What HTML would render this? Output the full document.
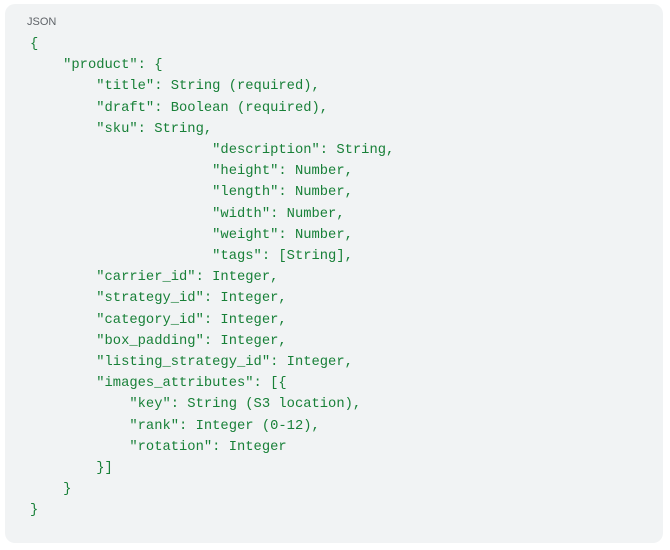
<!DOCTYPE html>
<html><head><style>
html,body{margin:0;padding:0;background:#fff;width:670px;height:550px;overflow:hidden}
.box{position:absolute;left:5px;top:4px;width:658px;height:539px;background:#f1f3f4;border-radius:10px}
.lbl{position:absolute;left:27px;top:16px;font:11px "Liberation Sans",sans-serif;color:#5f6368}
pre{position:absolute;left:30px;top:34px;margin:0;font-family:"Liberation Mono",monospace;font-size:13.8px;line-height:21.2px;color:#188038}
</style></head><body>
<div class="box"></div>
<div class="lbl">JSON</div>
<pre>{
    "product": {
        "title": String (required),
        "draft": Boolean (required),
        "sku": String,
                      "description": String,
                      "height": Number,
                      "length": Number,
                      "width": Number,
                      "weight": Number,
                      "tags": [String],
        "carrier_id": Integer,
        "strategy_id": Integer,
        "category_id": Integer,
        "box_padding": Integer,
        "listing_strategy_id": Integer,
        "images_attributes": [{
            "key": String (S3 location),
            "rank": Integer (0-12),
            "rotation": Integer
        }]
    }
}</pre>
</body></html>
